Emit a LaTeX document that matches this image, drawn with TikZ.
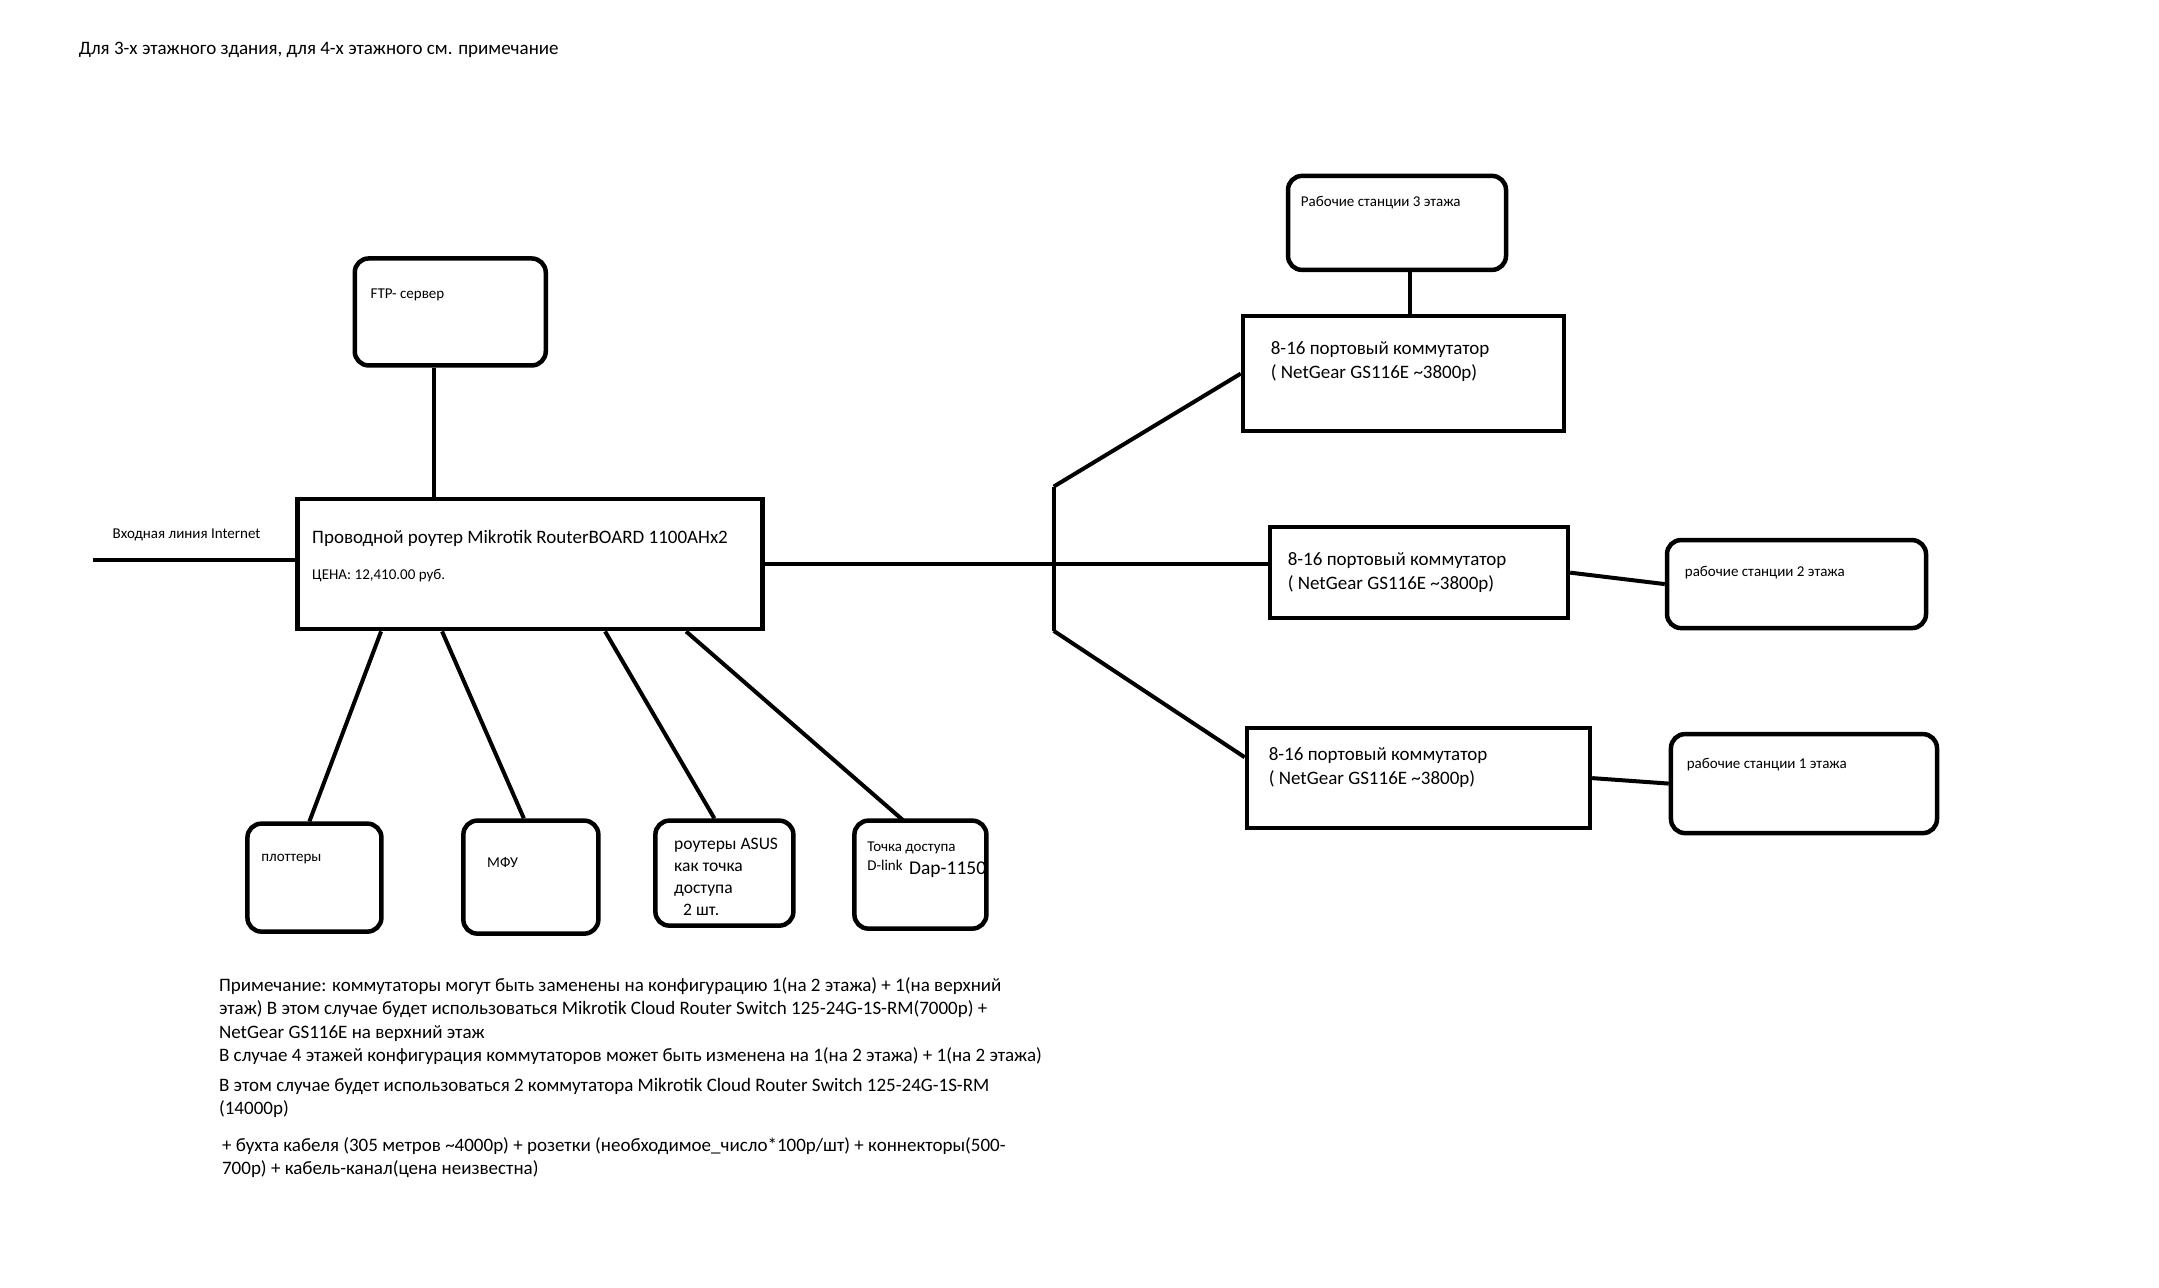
\documentclass[tikz,border=0pt]{standalone}
\usepackage{fontspec}
\setmainfont{Carlito}
\usepackage{tikz}
\usetikzlibrary{calc}
\usetikzlibrary{positioning}
\newcommand{\bigtxt}{\fontsize{19}{24}\selectfont}
\newcommand{\smalltxt}{\fontsize{15}{22}\selectfont}

\begin{document}
\begin{tikzpicture}[x=0.995pt,y=-0.995pt,
		box/.style={rectangle,draw=black,line width=4.5pt,inner sep=0pt},
		rbox/.style={box,rounded corners=14pt},
		lbl/.style={inner sep=0pt,align=left,anchor=west,xshift=3pt,yshift=-4pt},
		wire/.style={draw=black,line width=4pt}]
		\useasboundingbox (0,0) rectangle (2169.8,1293.5);
		\node[lbl,font=\bigtxt] (title) at (76,46) {Для 3-х этажного здания, для 4-х этажного см. примечание};
		
		\node[box,minimum width=465pt,minimum height=130pt]  (router) at (532.5,567) {};
		\node[rbox,minimum width=191pt,minimum height=107pt] (ftp)    at (452.5,313.5) {};
		\node[box,minimum width=321pt,minimum height=115pt]  (sw1)    at (1410.5,375.5) {};
		\node[rbox,minimum width=218pt,minimum height=94pt]  (ws3)    at (1404,224) {};
		\node[box,minimum width=298pt,minimum height=91pt]   (sw2)    at (1426,575.5) {};
		\node[rbox,minimum width=259pt,minimum height=88pt]  (ws2)    at (1805.5,587) {};
		\node[box,minimum width=343pt,minimum height=100pt]  (sw3)    at (1425.5,782) {};
		\node[rbox,minimum width=266pt,minimum height=99pt]  (ws1)    at (1813,787.5) {};
		\node[rbox,minimum width=134pt,minimum height=108pt] (plot)   at (316,882) {};
		\node[rbox,minimum width=135pt,minimum height=113pt] (mfu)    at (533.5,881.5) {};
		\node[rbox,minimum width=138pt,minimum height=105pt] (asus)   at (728,877.5) {};
		\node[rbox,minimum width=132pt,minimum height=108pt] (dlink)  at (925,879) {};
		
		\node[lbl,font=\bigtxt]   (router-txt)  at ([shift={(14,38)}]router.north west) {Проводной роутер Mikrotik RouterBOARD 1100AHx2};
		\node[lbl,font=\smalltxt] (router-cost) at ([shift={(14,75)}]router.north west) {ЦЕНА: 12,410.00 руб.};
		\node[lbl,font=\smalltxt] (inet-txt)    at (110,534) {Входная линия Internet};
		\node[lbl,font=\smalltxt] (ftp-txt)     at ([shift={(15,35)}]ftp.north west) {FTP- сервер};
		\node[lbl,font=\bigtxt]   (sw1-txt)     at ([shift={(27,44)}]sw1.north west) {8-16 портовый коммутатор\\( NetGear GS116E \textasciitilde 3800р)};
		\node[lbl,font=\bigtxt]   (sw2-txt)     at ([shift={(17,44)}]sw2.north west) {8-16 портовый коммутатор\\( NetGear GS116E \textasciitilde 3800р)};
		\node[lbl,font=\bigtxt]   (sw3-txt)     at ([shift={(21,38)}]sw3.north west) {8-16 портовый коммутатор\\( NetGear GS116E \textasciitilde 3800р)};
		\node[lbl,font=\smalltxt] (ws3-txt)     at ([shift={(12,25)}]ws3.north west) {Рабочие станции 3 этажа};
		\node[lbl,font=\smalltxt] (ws2-txt)     at ([shift={(17,31)}]ws2.north west) {рабочие станции 2 этажа};
		\node[lbl,font=\smalltxt] (ws1-txt)     at ([shift={(15,29)}]ws1.north west) {рабочие станции 1 этажа};
		\node[lbl,font=\smalltxt] (plot-txt)    at ([shift={(13,34)}]plot.north west) {плоттеры};
		\node[lbl,font=\smalltxt] (mfu-txt)     at ([shift={(23,40)}]mfu.north west) {МФУ};
		\node[lbl,font=\fontsize{17.5}{22}\selectfont] (asus-txt) at ([shift={(18,55)}]asus.north west) {роутеры ASUS\\как точка\\доступа\\\hspace{9pt}2 шт.};
		\node[lbl,font=\fontsize{15}{19}\selectfont] (dlink-txt) at ([shift={(12,34)}]dlink.north west) {Точка доступа\\D-link};
		\node[lbl,font=\fontsize{19.5}{24}\selectfont] (dap-txt) at ([shift={(54,48)}]dlink.north west) {Dap-1150};
		
		\node[inner sep=0pt,align=left,anchor=north west,yshift=-4pt,font=\fontsize{19}{23.5}\selectfont] (note) at (220,978)
		{Примечание: коммутаторы могут быть заменены на конфигурацию 1(на 2 этажа) + 1(на верхний\\
		этаж) В этом случае будет использоваться Mikrotik Cloud Router Switch 125-24G-1S-RM(7000р) +\\
		NetGear GS116E на верхний этаж\\
		В случае 4 этажей конфигурация коммутаторов может быть изменена на 1(на 2 этажа) + 1(на 2 этажа)\\[6pt]
		В этом случае будет использоваться 2 коммутатора Mikrotik Cloud Router Switch 125-24G-1S-RM\\
		(14000р)\\[13pt]
		\hspace{3pt}+ бухта кабеля (305 метров \textasciitilde 4000р) + розетки (необходимое\_число*100р/шт) + коннекторы(500-\\
		\hspace{3pt}700р) + кабель-канал(цена неизвестна)};
		
		\coordinate (inet)    at (93,563);
		\coordinate (bus-top) at (1059,489);
		\coordinate (bus-mid) at (1059,567);
		\coordinate (bus-bot) at (1059,634);
		
		\path[wire]
		(inet) edge (inet -| router.west)
		([xshift=-16pt]ftp.south) edge ([xshift=-16pt]ftp.south |- router.north)
		(router.east) edge (bus-mid)
		(bus-top) edge (bus-bot)
		(bus-top) edge (sw1.west)
		(bus-mid) edge (bus-mid -| sw2.west)
		(bus-bot) edge ($(sw3.north west)!0.3!(sw3.south west)$)
		([xshift=13pt]ws3.south) edge ([xshift=13pt]ws3.south |- sw1.north)
		(sw2.east) edge (ws2.west)
		(sw3.east) edge (ws1.west)
		([xshift=86pt]router.south west) edge ([xshift=-5pt]plot.north)
		([xshift=147pt]router.south west) edge ([xshift=-7pt]mfu.north)
		([xshift=310pt]router.south west) edge ([xshift=-10pt]asus.north)
		([xshift=391pt]router.south west) edge ([xshift=-16pt,yshift=-3pt]dlink.north);
\end{tikzpicture}
\end{document}
